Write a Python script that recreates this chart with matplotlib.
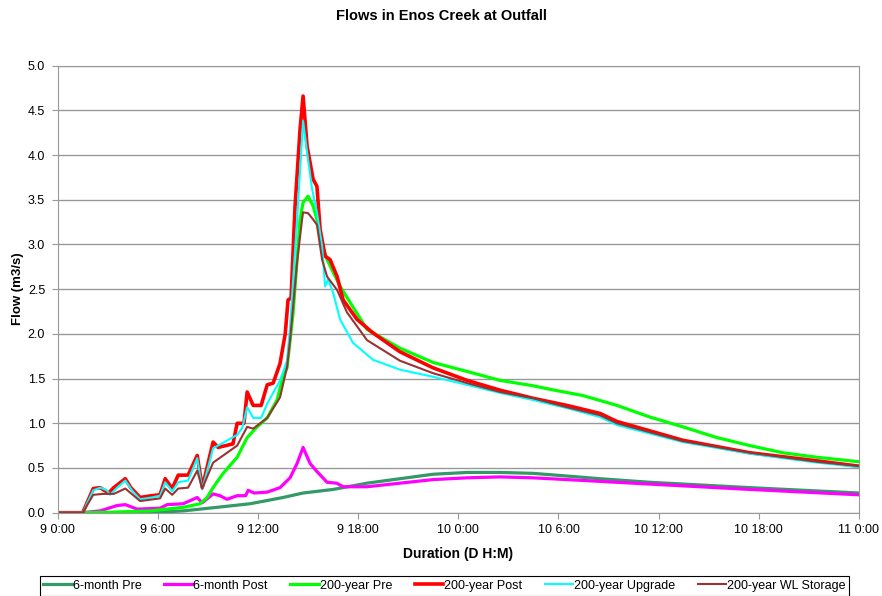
import numpy as np
import matplotlib.pyplot as plt

plt.rcParams['font.family'] = ['Liberation Sans', 'DejaVu Sans']

# time in hours from 9 0:00, flow in m3/s
pre6_t = [0, 1.5, 5.53, 7.52, 9.55, 11.53, 13.5, 14.7, 16.5, 18.53, 20.5, 22.49, 24.52,
          26.5, 28.47, 30.5, 32.49, 35.47, 41.47, 48]
pre6_q = [0, 0, 0.0, 0.02, 0.06, 0.1, 0.17, 0.22, 0.26, 0.33, 0.38, 0.43, 0.45,
          0.45, 0.44, 0.41, 0.38, 0.34, 0.28, 0.22]

post6_t = [0, 1.5, 2.54, 3.56, 4.05, 4.76, 6.13, 6.56, 7.52, 8.36, 8.66, 9.31, 9.72, 10.14,
           10.75, 11.26, 11.41, 11.78, 12.55, 13.32, 13.92, 14.34, 14.7, 15.12, 15.53, 16.14,
           16.71, 17.1, 17.94, 18.53, 20.5, 22.49, 24.52, 26.5, 28.47, 30.5, 32.49, 35.47,
           41.47, 48]
post6_q = [0, 0, 0.02, 0.08, 0.09, 0.04, 0.05, 0.09, 0.1, 0.17, 0.11, 0.21, 0.19, 0.15,
           0.19, 0.19, 0.25, 0.22, 0.23, 0.28, 0.39, 0.55, 0.73, 0.55, 0.46, 0.34,
           0.33, 0.29, 0.29, 0.29, 0.33, 0.37, 0.39, 0.40, 0.39, 0.37, 0.35, 0.32,
           0.26, 0.20]

pre200_t = [0, 1.5, 3.05, 5.53, 7.52, 8.53, 8.95, 9.31, 9.91, 10.75, 11.35, 11.94, 12.55,
            13.14, 13.5, 13.74, 14.1, 14.52, 14.7, 15.0, 15.3, 15.53, 15.72, 16.14, 16.92,
            18.53, 20.5, 22.49, 24.52, 26.5, 28.47, 29.49, 31.47, 33.5, 35.47, 37.45,
            39.49, 41.47, 43.44, 45.47, 48]
pre200_q = [0, 0, 0.005, 0.02, 0.06, 0.1, 0.17, 0.28, 0.44, 0.62, 0.84, 0.96, 1.06,
            1.26, 1.52, 1.62, 2.23, 3.28, 3.47, 3.54, 3.43, 3.28, 3.06, 2.83, 2.53,
            2.05, 1.84, 1.68, 1.58, 1.48, 1.42, 1.38, 1.31, 1.2, 1.07, 0.96,
            0.84, 0.75, 0.67, 0.62, 0.57]

post200_t = [0, 1.5, 2.13, 2.54, 3.05, 3.36, 4.05, 4.38, 4.94, 5.62, 6.13, 6.44, 6.86, 7.22,
             7.81, 8.36, 8.66, 9.31, 9.61, 10.5, 10.75, 11.16, 11.35, 11.71, 12.19, 12.55,
             12.91, 13.32, 13.63, 13.8, 13.98, 14.22, 14.52, 14.7, 14.94, 15.3, 15.53,
             15.72, 16.02, 16.32, 16.74, 17.1, 17.94, 18.89, 20.5, 22.49, 24.52, 26.5,
             28.47, 30.5, 32.49, 33.5, 37.45, 41.47, 45.47, 48]
post200_q = [0, 0, 0.27, 0.28, 0.22, 0.28, 0.38, 0.28, 0.17, 0.19, 0.2, 0.38, 0.27, 0.42,
             0.42, 0.64, 0.28, 0.79, 0.73, 0.77, 1.0, 1.0, 1.35, 1.2, 1.2, 1.43,
             1.45, 1.67, 2.0, 2.38, 2.4, 3.43, 4.29, 4.66, 4.1, 3.73, 3.65,
             3.17, 2.87, 2.83, 2.64, 2.38, 2.16, 2.01, 1.8, 1.62, 1.48, 1.37,
             1.28, 1.20, 1.11, 1.02, 0.81, 0.67, 0.58, 0.52]

upg_t = [0, 1.5, 2.13, 2.55, 2.95, 3.14, 3.56, 4.05, 4.49, 4.94, 5.62, 6.14, 6.44, 6.86,
         7.22, 7.81, 8.36, 8.66, 9.31, 10.75, 11.06, 11.35, 11.71, 12.19, 12.55, 13.32,
         13.74, 13.92, 14.34, 14.7, 14.94, 15.24, 15.53, 15.84, 16.02, 16.2, 16.5, 16.92,
         17.69, 18.89, 20.5, 22.49, 24.52, 26.5, 28.47, 30.5, 32.49, 33.5, 37.45, 41.47,
         45.47, 48]
upg_q = [0, 0, 0.25, 0.28, 0.25, 0.2, 0.28, 0.36, 0.24, 0.15, 0.17, 0.19, 0.34, 0.24,
         0.34, 0.36, 0.61, 0.26, 0.72, 0.87, 0.95, 1.18, 1.06, 1.06, 1.22, 1.48,
         1.7, 2.08, 3.28, 4.38, 4.03, 3.62, 3.36, 2.98, 2.53, 2.61, 2.46, 2.16,
         1.9, 1.71, 1.6, 1.52, 1.43, 1.34, 1.26, 1.17, 1.07, 0.98, 0.79, 0.66,
         0.56, 0.51]

wl_t = [0, 1.5, 2.13, 2.72, 3.36, 4.05, 4.94, 6.13, 6.44, 6.86, 7.22, 7.81, 8.36, 8.66,
        9.31, 10.75, 11.35, 11.71, 12.55, 13.32, 13.74, 13.92, 14.34, 14.64, 14.7, 15.0,
        15.3, 15.53, 15.84, 16.14, 16.74, 17.33, 18.53, 20.5, 22.49, 24.52, 26.5, 28.47,
        30.5, 32.49, 33.5, 37.45, 41.47, 45.47, 48]
wl_q = [0, 0, 0.2, 0.21, 0.21, 0.27, 0.13, 0.16, 0.27, 0.2, 0.27, 0.28, 0.47, 0.27,
        0.56, 0.75, 0.96, 0.94, 1.06, 1.29, 1.63, 1.93, 2.8, 3.28, 3.36, 3.35,
        3.28, 3.22, 2.83, 2.64, 2.49, 2.24, 1.93, 1.7, 1.56, 1.45, 1.35, 1.28,
        1.18, 1.09, 1.0, 0.80, 0.67, 0.57, 0.52]

tick_hours = [0, 6, 12, 18, 24, 30, 36, 42, 48]
tick_labels = ['9 0:00', '9 6:00', '9 12:00', '9 18:00', '10 0:00', '10 6:00',
               '10 12:00', '10 18:00', '11 0:00']

fig = plt.figure(figsize=(8.82, 5.96), dpi=100)
ax = fig.add_axes([0.0654, 0.1398, 0.9085, 0.75])

ax.plot(pre6_t, pre6_q, color='#339966', lw=2.3, label='6-month Pre')
ax.plot(post6_t, post6_q, color='#FF00FF', lw=2.3, label='6-month Post')
ax.plot(pre200_t, pre200_q, color='#00FF00', lw=2.3, label='200-year Pre')
ax.plot(post200_t, post200_q, color='#FF0000', lw=2.6, label='200-year Post')
ax.plot(upg_t, upg_q, color='#00FFFF', lw=1.5, label='200-year Upgrade')
ax.plot(wl_t, wl_q, color='#993333', lw=1.5, label='200-year WL Storage')

ax.set_xlim(0, 48)
ax.set_ylim(0, 5.0)
ax.set_xticks(tick_hours)
ax.set_xticklabels(tick_labels, fontsize=9)
ax.set_yticks(np.arange(0, 5.01, 0.5))
ax.set_yticklabels(['%.1f' % v for v in np.arange(0, 5.01, 0.5)], fontsize=9)
ax.yaxis.grid(True, color='#999999', lw=1)
ax.set_axisbelow(True)
for s in ax.spines.values():
    s.set_color('#999999')
ax.tick_params(colors='#999999', labelcolor='black', length=4)
ax.tick_params(axis='y', pad=5)
ax.tick_params(axis='x', pad=4)

ax.set_xlabel('Duration (D H:M)', fontsize=10, fontweight='bold', labelpad=8)
ax.set_ylabel('Flow (m3/s)', fontsize=9.5, fontweight='bold', labelpad=3)
fig.suptitle('Flows in Enos Creek at Outfall', fontsize=10.5, fontweight='bold', y=0.985)

leg = fig.legend(loc='upper center', bbox_to_anchor=(0.504, 0.044), ncol=6, fontsize=9,
                 frameon=True, fancybox=False, edgecolor='black', framealpha=1,
                 handlelength=2.3, columnspacing=1.8, handletextpad=0.05, borderpad=0.3)
leg.get_frame().set_linewidth(0.8)

fig.savefig('out.png', dpi=100)
